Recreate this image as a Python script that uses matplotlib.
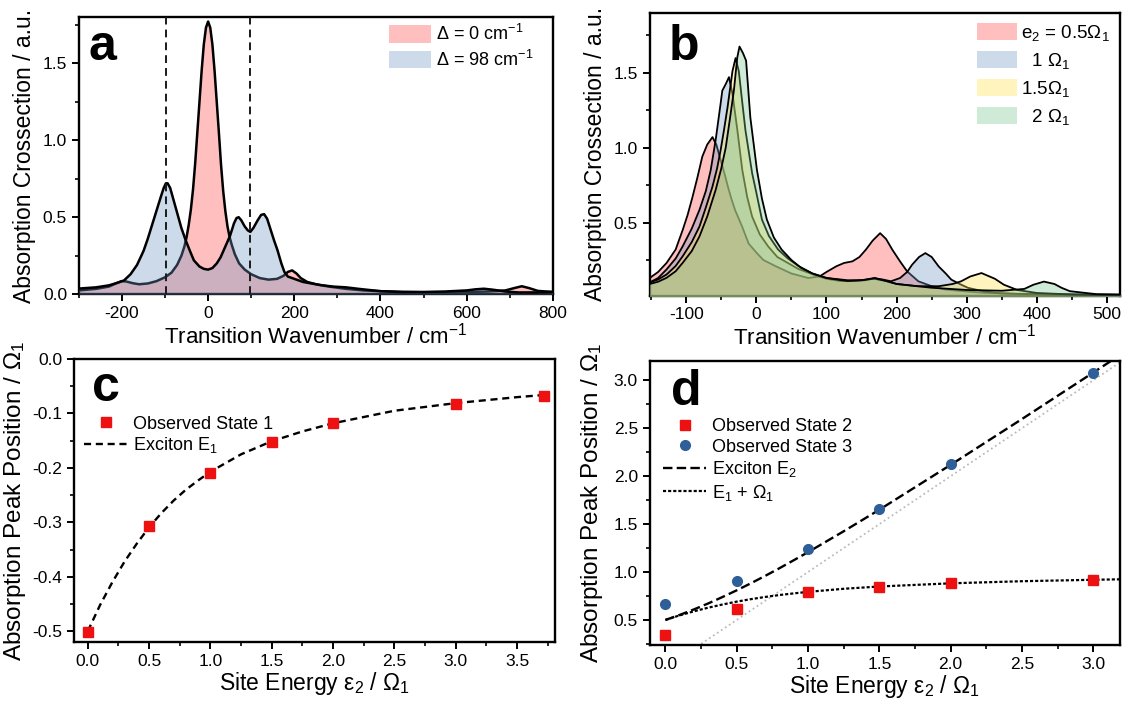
import numpy as np
import matplotlib
matplotlib.use("Agg")
import matplotlib.pyplot as plt
from matplotlib.ticker import MultipleLocator

plt.rcParams["font.family"] = ["Liberation Sans", "DejaVu Sans"]
plt.rcParams["mathtext.fontset"] = "custom"
plt.rcParams["mathtext.rm"] = "Liberation Sans"
plt.rcParams["mathtext.it"] = "Liberation Sans:italic"
plt.rcParams["axes.unicode_minus"] = False

# ---- panel a: spectra for two detunings ----
a_red_x = [-300, -260, -230, -210, -200, -190, -175, -160, -140, -120, -100, -85, -72, -62, -55, -50,
           -45, -40, -35, -30, -25, -20, -15, -10, -5, 0, 5, 10, 15, 20, 25, 30, 35, 40, 45, 50, 55,
           62, 72, 85, 100, 120, 140, 160, 175, 185, 195, 205, 215, 230, 250, 280, 320, 360, 400, 450,
           500, 550, 600, 650, 690, 710, 728, 745, 765, 800]
a_red_y = [0.025, 0.035, 0.05, 0.075, 0.085, 0.083, 0.072, 0.065, 0.07, 0.085, 0.11, 0.14, 0.19, 0.25,
           0.31, 0.37, 0.45, 0.55, 0.68, 0.85, 1.05, 1.25, 1.45, 1.62, 1.73, 1.77, 1.73, 1.62, 1.45,
           1.25, 1.05, 0.84, 0.67, 0.54, 0.44, 0.37, 0.32, 0.26, 0.2, 0.16, 0.13, 0.105, 0.095, 0.1,
           0.12, 0.145, 0.155, 0.135, 0.105, 0.08, 0.065, 0.05, 0.035, 0.025, 0.02, 0.015, 0.013,
           0.013, 0.015, 0.018, 0.025, 0.04, 0.052, 0.04, 0.022, 0.015]
a_blue_x = [-300, -260, -230, -210, -195, -180, -165, -150, -140, -130, -120, -110, -103, -98, -94,
            -88, -80, -71, -62, -52, -42, -33, -20, -10, 0, 10, 20, 29, 40, 51, 60, 66, 71, 77, 85,
            92, 98, 105, 115, 123, 130, 137, 145, 153, 161, 170, 177, 185, 195, 205, 220, 240, 260,
            290, 320, 350, 400, 450, 500, 550, 600, 620, 640, 660, 690, 720, 760, 800]
a_blue_y = [0.037, 0.045, 0.058, 0.075, 0.09, 0.13, 0.19, 0.28, 0.36, 0.45, 0.54, 0.63, 0.69, 0.72,
            0.72, 0.69, 0.61, 0.52, 0.43, 0.35, 0.28, 0.22, 0.18, 0.165, 0.16, 0.17, 0.2, 0.24, 0.31,
            0.38, 0.46, 0.495, 0.5, 0.48, 0.44, 0.415, 0.405, 0.43, 0.48, 0.515, 0.52, 0.49, 0.42,
            0.35, 0.286, 0.2, 0.145, 0.115, 0.105, 0.095, 0.08, 0.07, 0.06, 0.05, 0.045, 0.035, 0.02,
            0.015, 0.015, 0.018, 0.025, 0.032, 0.036, 0.03, 0.018, 0.012, 0.012, 0.015]
a_labels = ["Δ = 0 cm$^{-1}$", "Δ = 98 cm$^{-1}$"]
a_vlines = [-98, 98]

# ---- panel b: spectra for four site energies ----
b_x = [
    [-152, -140, -128, -115, -105, -98, -91, -84, -77, -70, -62.5, -57, -51, -45, -40, -35, -30, -20,
     -11, 0, 10, 27, 50, 74, 90, 100, 114, 125, 137, 147, 156, 166, 176.5, 185, 194, 205, 215, 231,
     250, 269, 300, 325, 370, 420, 470, 519],
    [-152, -140, -128, -115, -105, -92, -81, -72, -65, -58, -51, -48.5, -44, -39, -34, -27, -20, -13,
     -6, 5, 17, 30, 45, 60, 83, 100, 120, 140, 155, 168, 180, 192, 205, 215, 222, 232, 241, 250, 260,
     270, 278, 290, 302, 325, 349, 400, 450, 519],
    [-152, -140, -128, -115, -105, -92, -81, -72, -62.5, -56, -51, -46, -41, -34, -29.6, -25, -20,
     -15.5, -6, 0, 8, 18, 31, 45, 60, 80, 100, 130, 150, 168, 185, 200, 230, 260, 280, 292, 305, 321,
     340, 353, 372, 400, 450, 519],
    [-152, -140, -128, -115, -105, -92, -81, -70, -58, -50, -43.6, -38, -32, -27.2, -24, -19, -14.6,
     -8.5, 0.9, 8, 15, 25, 36, 50, 64, 80, 100, 130, 150, 169, 185, 200, 250, 300, 350, 382, 395, 410,
     425, 435, 447, 485, 519],
]
b_y = [
    [0.13, 0.17, 0.23, 0.32, 0.45, 0.55, 0.67, 0.8, 0.94, 1.02, 1.07, 1.02, 0.92, 0.82, 0.73, 0.65,
     0.58, 0.47, 0.36, 0.3, 0.25, 0.21, 0.16, 0.13, 0.14, 0.17, 0.208, 0.23, 0.241, 0.27, 0.318, 0.38,
     0.429, 0.39, 0.318, 0.24, 0.174, 0.108, 0.075, 0.053, 0.04, 0.031, 0.025, 0.022, 0.02, 0.018],
    [0.1, 0.13, 0.187, 0.26, 0.341, 0.46, 0.585, 0.71, 0.85, 1.05, 1.29, 1.38, 1.42, 1.47, 1.36,
     1.115, 0.85, 0.67, 0.54, 0.42, 0.34, 0.27, 0.23, 0.19, 0.15, 0.125, 0.11, 0.11, 0.115, 0.128,
     0.12, 0.108, 0.13, 0.17, 0.218, 0.27, 0.296, 0.27, 0.207, 0.16, 0.119, 0.09, 0.064, 0.04, 0.027,
     0.02, 0.017, 0.015],
    [0.1, 0.12, 0.153, 0.21, 0.275, 0.37, 0.474, 0.6, 0.74, 0.86, 0.98, 1.12, 1.27, 1.51, 1.597, 1.51,
     1.3, 1.115, 0.83, 0.7, 0.52, 0.41, 0.32, 0.26, 0.21, 0.16, 0.13, 0.115, 0.115, 0.125, 0.11, 0.09,
     0.075, 0.075, 0.09, 0.108, 0.14, 0.163, 0.125, 0.085, 0.05, 0.03, 0.02, 0.015],
    [0.09, 0.105, 0.131, 0.175, 0.231, 0.31, 0.408, 0.54, 0.717, 0.86, 1.0, 1.18, 1.38, 1.6, 1.674,
     1.63, 1.58, 1.2, 0.85, 0.66, 0.52, 0.4, 0.32, 0.25, 0.197, 0.16, 0.13, 0.11, 0.115, 0.13, 0.11,
     0.09, 0.065, 0.05, 0.045, 0.057, 0.085, 0.106, 0.09, 0.065, 0.042, 0.022, 0.02],
]
b_labels = ["e$_2$ = 0.5Ω$_1$", "  1 Ω$_1$", "1.5Ω$_1$", "  2 Ω$_1$"]

# ---- panel c: lowest peak vs site energy ----
c_obs_x = [0.0, 0.5, 1.0, 1.5, 2.0, 3.0, 3.72]
c_obs_y = [-0.501, -0.307, -0.21, -0.153, -0.118, -0.083, -0.067]
c_e1_x = [0.0, 0.1, 0.2, 0.3, 0.4, 0.5, 0.6, 0.7, 0.8, 0.9, 1.0, 1.25, 1.5, 1.75, 2.0, 2.5, 3.0,
          3.5, 3.72]
c_e1_y = [-0.5, -0.452, -0.41, -0.372, -0.339, -0.309, -0.283, -0.26, -0.24, -0.223, -0.207, -0.175,
          -0.151, -0.133, -0.118, -0.095, -0.081, -0.07, -0.066]

# ---- panel d: upper peaks vs site energy ----
d_x = [0.0, 0.5, 1.0, 1.5, 2.0, 3.0]
d_state2 = [0.347, 0.615, 0.79, 0.843, 0.883, 0.915]
d_state3 = [0.663, 0.91, 1.243, 1.657, 2.125, 3.077]
d_line_x = [0.0, 0.1, 0.2, 0.3, 0.4, 0.5, 0.6, 0.7, 0.8, 0.9, 1.0, 1.25, 1.5, 2.0, 2.5, 3.0, 3.19]
d_e2 = [0.5, 0.552, 0.61, 0.672, 0.739, 0.809, 0.883, 0.96, 1.04, 1.123, 1.207, 1.425, 1.65, 2.118,
        2.596, 3.081, 3.266]
d_e1w = [0.5, 0.548, 0.59, 0.628, 0.661, 0.691, 0.717, 0.74, 0.76, 0.777, 0.793, 0.825, 0.849, 0.882,
         0.904, 0.919, 0.924]
d_diag = [0.0, 3.3]

red_fill = "#ff4848"
blue_fill = "#6d95c3"
fill_cols = ["#ff4848", "#6d95c3", "#ffe245", "#78c38c"]
ALPHA = 0.35


def style(ax, xmaj, xmin, ymaj, ymin, size=12):
    for s in ax.spines.values():
        s.set_linewidth(1.7)
    ax.xaxis.set_major_locator(MultipleLocator(xmaj))
    ax.xaxis.set_minor_locator(MultipleLocator(xmin))
    ax.yaxis.set_major_locator(MultipleLocator(ymaj))
    ax.yaxis.set_minor_locator(MultipleLocator(ymin))
    ax.tick_params(which="major", direction="out", length=5, width=1.4, labelsize=size)
    ax.tick_params(which="minor", direction="out", length=3, width=1.2)


def letter(ax, s, x, y):
    ax.text(x, y, s, transform=ax.transAxes, fontsize=36, fontweight="bold", va="baseline")


fig = plt.figure(figsize=(11.26, 7.04), dpi=100)
ax_a = fig.add_axes([0.070, 0.582, 0.421, 0.394])
ax_b = fig.add_axes([0.577, 0.580, 0.418, 0.402])
ax_c = fig.add_axes([0.066, 0.088, 0.427, 0.402])
ax_d = fig.add_axes([0.577, 0.084, 0.418, 0.403])

# a
handles = []
for i, (xs, ys, col) in enumerate([(a_red_x, a_red_y, red_fill), (a_blue_x, a_blue_y, blue_fill)]):
    h = ax_a.fill_between(xs, ys, 0, color=col, alpha=ALPHA, lw=0, zorder=2 + 2 * i)
    ax_a.plot(xs, ys, color="black", lw=1.8, zorder=3 + 2 * i)
    handles.append(h)
for v in a_vlines:
    ax_a.axvline(v, color="#1a1a1a", lw=1.4, dashes=(4, 2.6), zorder=6)
ax_a.set_xlim(-300, 800)
ax_a.set_ylim(0, 1.8)
style(ax_a, 200, 100, 0.5, 0.25, size=12.5)
ax_a.set_xlabel("Transition Wavenumber / cm$^{-1}$", fontsize=16, labelpad=1)
ax_a.set_ylabel("Absorption Crossection / a.u.", fontsize=16.5, labelpad=5)
ax_a.legend(handles, a_labels, loc="upper right", bbox_to_anchor=(0.975, 1.0), frameon=False,
            fontsize=13, handlelength=2.3, handleheight=1.1, labelspacing=0.3, handletextpad=0.3,
            borderaxespad=0.2, borderpad=0.2)
letter(ax_a, "a", 0.02, 0.845)

# b
handles = []
for i, (xs, ys, col) in enumerate(zip(b_x, b_y, fill_cols)):
    h = ax_b.fill_between(xs, ys, 0, color=col, alpha=ALPHA, lw=0, zorder=2 + 2 * i)
    ax_b.plot(xs, ys, color="black", lw=1.3, zorder=3 + 2 * i)
    handles.append(h)
ax_b.set_xlim(-152, 519)
ax_b.set_ylim(0.012, 1.9)
style(ax_b, 100, 50, 0.5, 0.25, size=12.5)
ax_b.set_xlabel("Transition Wavenumber / cm$^{-1}$", fontsize=16, labelpad=1)
ax_b.set_ylabel("Absorption Crossection / a.u.", fontsize=16.5, labelpad=5)
ax_b.legend(handles, b_labels, loc="upper right", frameon=False, fontsize=13.5,
            handlelength=2.1, handleheight=1.0, labelspacing=0.42, handletextpad=0.25,
            borderaxespad=0.35, borderpad=0.2)
letter(ax_b, "b", 0.04, 0.834)

# c
ax_c.plot(c_e1_x, c_e1_y, color="black", lw=1.7, dashes=(3, 2), label="Exciton E$_1$", zorder=3)
ax_c.plot(c_obs_x, c_obs_y, "s", color="#ee1111", ms=6.5, label="Observed State 1", zorder=4)
ax_c.set_xlim(-0.11, 3.81)
ax_c.set_ylim(-0.52, 0.0)
style(ax_c, 0.5, 0.25, 0.1, 0.05, size=12.5)
ax_c.set_xlabel("Site Energy ε$_2$ / Ω$_1$", fontsize=16.5, labelpad=1)
ax_c.set_ylabel("Absorption Peak Position / Ω$_1$", fontsize=17.5, labelpad=3)
h, l = ax_c.get_legend_handles_labels()
ax_c.legend(h[::-1], l[::-1], loc="upper left", bbox_to_anchor=(0.021, 0.80), frameon=False,
            fontsize=13, handlelength=2.4, labelspacing=0.15, handletextpad=0.3,
            borderaxespad=0, borderpad=0)
letter(ax_c, "c", 0.037, 0.85)

# d
ax_d.plot(d_diag, d_diag, color="#bbbbbb", lw=1.3, ls=":", zorder=2)
ax_d.plot(d_line_x, d_e2, color="black", lw=1.7, dashes=(4, 1.8), label="Exciton E$_2$", zorder=3)
ax_d.plot(d_line_x, d_e1w, color="black", lw=1.6, dashes=(1.4, 0.9), label="E$_1$ + Ω$_1$", zorder=3)
ax_d.plot(d_x, d_state2, "s", color="#ee1111", ms=6.5, label="Observed State 2", zorder=4)
ax_d.plot(d_x, d_state3, "o", color="#2f5f98", ms=7, label="Observed State 3", zorder=4)
ax_d.set_xlim(-0.11, 3.19)
ax_d.set_ylim(0.24, 3.2)
style(ax_d, 0.5, 0.25, 0.5, 0.25, size=12.5)
ax_d.set_xlabel("Site Energy ε$_2$ / Ω$_1$", fontsize=16.5, labelpad=1)
ax_d.set_ylabel("Absorption Peak Position / Ω$_1$", fontsize=17.5, labelpad=6)
h, l = ax_d.get_legend_handles_labels()
order = [2, 3, 0, 1]
ax_d.legend([h[i] for i in order], [l[i] for i in order], loc="upper left",
            bbox_to_anchor=(0.028, 0.80), frameon=False, fontsize=13, handlelength=2.4,
            labelspacing=0.2, handletextpad=0.3, borderaxespad=0, borderpad=0)
letter(ax_d, "d", 0.045, 0.845)

fig.savefig("out.png", dpi=100)
